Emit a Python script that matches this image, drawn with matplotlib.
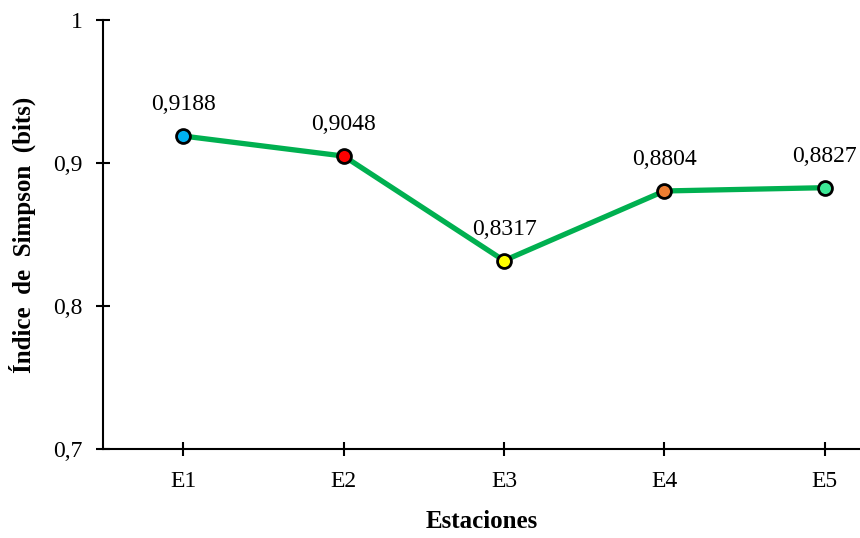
import numpy as np
from matplotlib import pyplot as plt

estaciones = ["E1", "E2", "E3", "E4", "E5"]
simpson = [0.9188, 0.9048, 0.8317, 0.8804, 0.8827]
colores = ["#00B0F0", "#FF0000", "#FFFF00", "#ED7D31", "#3CE896"]
yticks = [0.7, 0.8, 0.9, 1.0]
ytick_labels = ["0,7", "0,8", "0,9", "1"]

plt.rcParams['font.family'] = ['Liberation Serif', 'DejaVu Serif']

fig = plt.figure(figsize=(8.6, 5.38), dpi=100)
ax = fig.add_axes([0.12, 0.1654, 0.88, 0.7976])

x = np.arange(len(estaciones))
ax.plot(x, simpson, color="#00B050", lw=3.8, zorder=2)
for xi, yi, c in zip(x, simpson, colores):
    ax.plot(xi, yi, "o", ms=10, mfc=c, mec="black", mew=2, zorder=3)
    ax.annotate(("%.4f" % yi).replace(".", ","), (xi, yi), xytext=(0, 15),
                textcoords="offset points", ha="center", va="bottom", fontsize=17)

ax.set_xlim(-0.5, 4.22)
ax.set_ylim(0.7, 1.0)
ax.set_xticks(x)
ax.set_xticklabels(estaciones, fontsize=17)
ax.set_yticks(yticks)
ax.set_yticklabels(ytick_labels, fontsize=17)
ax.tick_params(direction="inout", length=10, width=1.5, pad=10)
ax.tick_params(axis="x", pad=11)

for s in ["top", "right"]:
    ax.spines[s].set_visible(False)
for s in ["left", "bottom"]:
    ax.spines[s].set_linewidth(1.5)

ax.set_xlabel("Estaciones", fontsize=18, fontweight="bold", labelpad=13)
ax.set_ylabel("Índice  de  Simpson  (bits)", fontsize=18, fontweight="bold", labelpad=12)

fig.savefig("out.png", dpi=100)
